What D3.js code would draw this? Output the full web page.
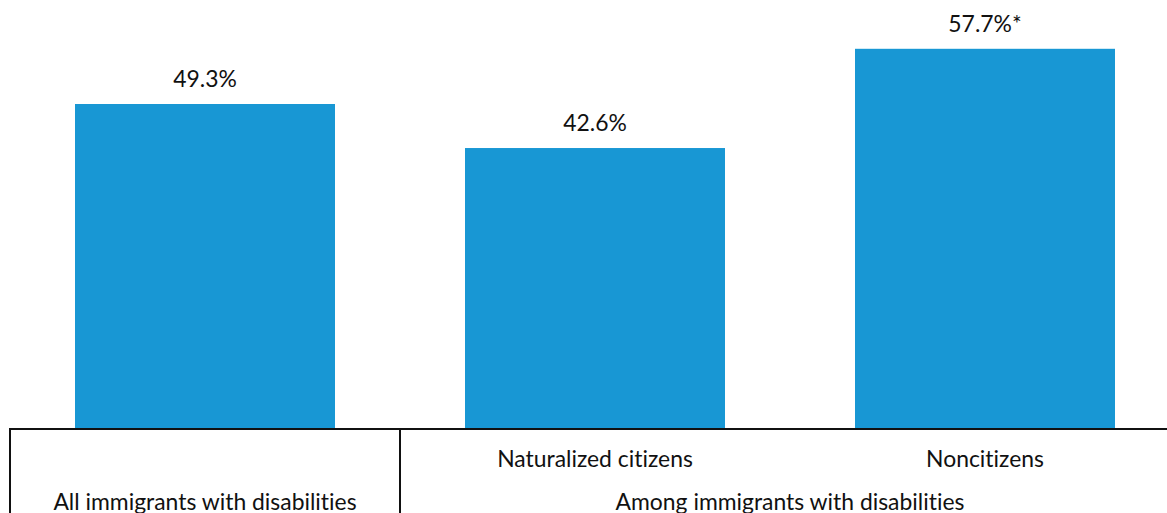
<!DOCTYPE html>
<html><head><meta charset="utf-8">
<script src="https://cdn.jsdelivr.net/npm/d3@7"></script>
<style>body{margin:0;background:#fff}svg{display:block}text{font-family:Lato,sans-serif;fill:#111;font-weight:400;font-variant-ligatures:none;font-feature-settings:"liga" 0}</style>
</head><body><div id="chart"></div>
<script>
const categories = ["All immigrants with disabilities", "Naturalized citizens", "Noncitizens"];
const values = [49.3, 42.6, 57.7];
const valueLabels = ["49.3%", "42.6%", "57.7%*"];
const subLabels = ["", "Naturalized citizens", "Noncitizens"];
const groups = [{name: "All immigrants with disabilities", from: 0, to: 0}, {name: "Among immigrants with disabilities", from: 1, to: 2}];

const W = 1167, H = 513;
const FS = 22.9;
const svg = d3.select("#chart").append("svg").attr("width", W).attr("height", H);
const x = d3.scaleBand().domain(categories).range([10, 1180]).paddingInner(1/3).paddingOuter(1/6);
const y = d3.scaleLinear().domain([0, 49.3]).range([428, 104]);

svg.selectAll("rect.bar").data(values).join("rect").attr("class","bar")
  .attr("x", (d,i)=>x(categories[i])).attr("width", x.bandwidth())
  .attr("y", d=>y(d)).attr("height", d=>y(0)-y(d)).attr("fill", "#1897d4");

svg.selectAll("text.val").data(values).join("text").attr("class","val")
  .attr("x", (d,i)=>x(categories[i]) + x.bandwidth()/2).attr("y", d=>y(d)-17)
  .attr("text-anchor","middle").attr("font-size", FS).text((d,i)=>valueLabels[i]);

// table lines
svg.append("line").attr("x1",10).attr("x2",W).attr("y1",429).attr("y2",429).attr("stroke","#111").attr("stroke-width",2);
const step = x.step();
const bounds = [10, x(categories[1]) - (step - x.bandwidth())/2];
bounds.forEach(b => svg.append("line").attr("x1",b).attr("x2",b).attr("y1",428).attr("y2",H).attr("stroke","#111").attr("stroke-width",2));

svg.selectAll("text.sub").data(subLabels).join("text").attr("class","sub")
  .attr("x", (d,i)=>x(categories[i]) + x.bandwidth()/2).attr("y", 467)
  .attr("text-anchor","middle").attr("font-size", FS).text(d=>d);

svg.selectAll("text.grp").data(groups).join("text").attr("class","grp")
  .attr("x", g => {const a = x(categories[g.from]) - (step - x.bandwidth())/2; const b = x(categories[g.to]) + x.bandwidth() + (step - x.bandwidth())/2; return (a+b)/2;})
  .attr("y", 510).attr("text-anchor","middle").attr("font-size", FS).text(g=>g.name);
</script></body></html>
